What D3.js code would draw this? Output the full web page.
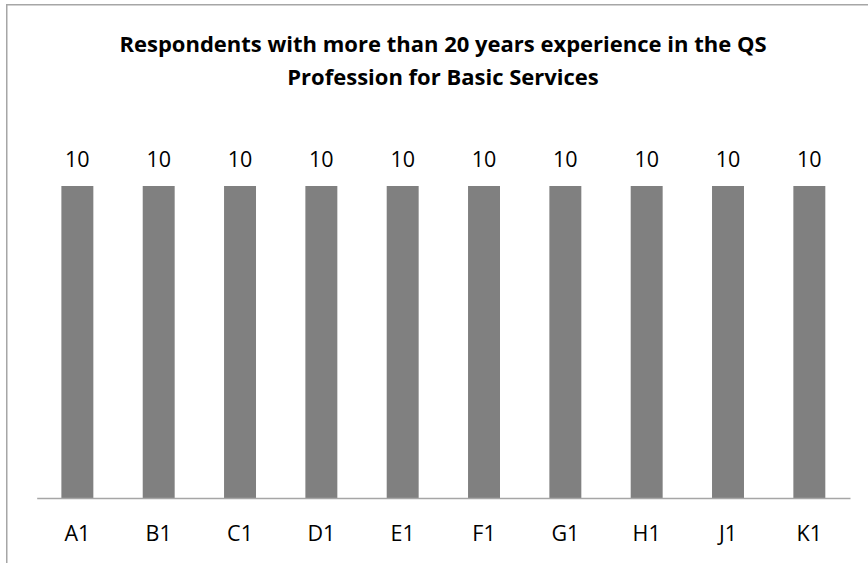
<!DOCTYPE html>
<html>
<head>
<meta charset="utf-8">
<script src="https://cdn.jsdelivr.net/npm/d3@7"></script>
<style>
  html, body { margin: 0; padding: 0; background: #fff; }
  svg { display: block; }
</style>
</head>
<body>
<svg id="chart" width="868" height="563"></svg>
<script>
const categories = ["A1", "B1", "C1", "D1", "E1", "F1", "G1", "H1", "J1", "K1"];
const values = [10, 10, 10, 10, 10, 10, 10, 10, 10, 10];
const titleLines = ["Respondents with more than 20 years experience in the QS", "Profession for Basic Services"];

const svg = d3.select("#chart");
const font = "'Open Sans', sans-serif";

// chart frame
svg.append("rect")
  .attr("x", 6.75).attr("y", 4.75)
  .attr("width", 900).attr("height", 620)
  .attr("fill", "#fff")
  .attr("stroke", "#a6a6a6").attr("stroke-width", 1.5);

const plot = { left: 36.7, right: 850, bottom: 498 };
const x = d3.scaleBand().domain(categories).range([plot.left, plot.right]).paddingInner(0.607).paddingOuter(0.3035);
const y = d3.scaleLinear().domain([0, 12]).range([plot.bottom, plot.bottom - 312 * 1.2]);

// title
svg.append("text")
  .attr("x", 443).attr("y", 52)
  .attr("text-anchor", "middle")
  .attr("font-family", font).attr("font-weight", "bold").attr("font-size", 22)
  .attr("fill", "#000")
  .selectAll("tspan").data(titleLines).join("tspan")
  .attr("x", 443).attr("dy", (d, i) => i === 0 ? 0 : 33)
  .text(d => d);

// bars
svg.append("g").selectAll("rect").data(categories).join("rect")
  .attr("x", d => x(d))
  .attr("y", (d, i) => y(values[i]))
  .attr("width", x.bandwidth())
  .attr("height", (d, i) => y(0) - y(values[i]))
  .attr("fill", "#808080");

// data labels
svg.append("g").selectAll("text").data(categories).join("text")
  .attr("x", d => x(d) + x.bandwidth() / 2)
  .attr("y", (d, i) => y(values[i]) - 19)
  .attr("text-anchor", "middle")
  .attr("font-family", font).attr("font-size", 21.5)
  .attr("fill", "#000")
  .text((d, i) => values[i]);

// x axis
const xAxis = d3.axisBottom(x).tickSize(0).tickPadding(0);
const gx = svg.append("g").attr("transform", `translate(0,${plot.bottom})`).call(xAxis);
gx.select(".domain").attr("stroke", "#a6a6a6").attr("stroke-width", 1.5);
gx.selectAll("text")
  .attr("dy", 0).attr("y", 43)
  .attr("font-family", font).attr("font-size", 21.5).attr("fill", "#000");
</script>
</body>
</html>
